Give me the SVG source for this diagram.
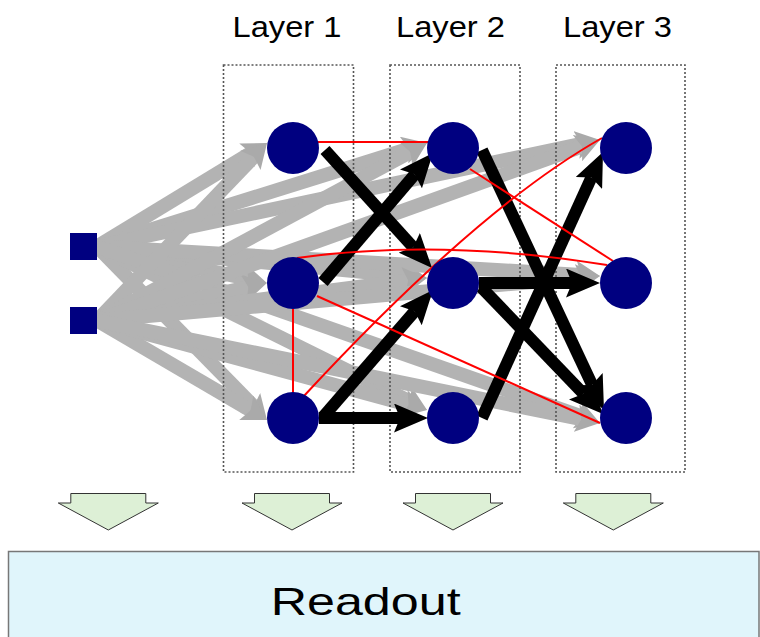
<svg xmlns="http://www.w3.org/2000/svg" width="760" height="637" viewBox="0 0 760 637">
<style>
.lbl{font-family:"Liberation Sans",Arial,sans-serif;fill:#000}
.g{stroke:#b3b3b3;stroke-width:14;fill:none;marker-end:url(#gh)}
.b{stroke:#000;stroke-width:12;fill:none;marker-end:url(#bh)}
.r{stroke:#ff0000;stroke-width:2;fill:none}
.box{fill:none;stroke:#555;stroke-width:1.6;stroke-dasharray:2 2}
.n{fill:#000080}
.ga{fill:#ddf0d6;stroke:#333;stroke-width:1}
</style>
<defs>
<marker id="gh" markerUnits="userSpaceOnUse" viewBox="0 0 24 28" markerWidth="24" markerHeight="28" refX="5" refY="14" orient="auto">
<path d="M0,0 L24,14 L0,28 L5,14 Z" fill="#aaaaaa"/>
</marker>
<marker id="bh" markerUnits="userSpaceOnUse" viewBox="0 0 34 29" markerWidth="34" markerHeight="29" refX="6" refY="14.5" orient="auto">
<path d="M0,0 L34,14.5 L0,29 L6,14.5 Z" fill="#000"/>
</marker>
</defs>
<rect width="760" height="637" fill="#fff"/>
<g id="labels">
<text class="lbl" x="287" y="37" font-size="30" text-anchor="middle" textLength="109" lengthAdjust="spacingAndGlyphs">Layer 1</text>
<text class="lbl" x="450.5" y="37" font-size="30" text-anchor="middle" textLength="109" lengthAdjust="spacingAndGlyphs">Layer 2</text>
<text class="lbl" x="617.5" y="37" font-size="30" text-anchor="middle" textLength="109" lengthAdjust="spacingAndGlyphs">Layer 3</text>
</g>
<g id="connectors">
<g id="input-arrows">
<line class="g" x1="97" y1="246.5" x2="250.8" y2="152.9"/>
<line class="g" x1="97" y1="246.5" x2="248.4" y2="279.0"/>
<line class="g" x1="97" y1="246.5" x2="253.7" y2="406.4"/>
<line class="g" x1="97" y1="246.5" x2="408.9" y2="148.7"/>
<line class="g" x1="97" y1="246.5" x2="408.1" y2="276.2"/>
<line class="g" x1="97" y1="246.5" x2="410.0" y2="401.6"/>
<line class="g" x1="97" y1="246.5" x2="581.4" y2="143.9"/>
<line class="g" x1="97" y1="246.5" x2="581.0" y2="274.9"/>
<line class="g" x1="97" y1="246.5" x2="582.1" y2="416.7"/>
<line class="g" x1="97" y1="320.5" x2="253.9" y2="156.7"/>
<line class="g" x1="97" y1="320.5" x2="248.4" y2="287.1"/>
<line class="g" x1="97" y1="320.5" x2="250.6" y2="410.4"/>
<line class="g" x1="97" y1="320.5" x2="410.3" y2="152.0"/>
<line class="g" x1="97" y1="320.5" x2="408.2" y2="280.4"/>
<line class="g" x1="97" y1="320.5" x2="408.7" y2="405.0"/>
<line class="g" x1="97" y1="320.5" x2="582.1" y2="146.4"/>
<line class="g" x1="97" y1="320.5" x2="581.1" y2="277.7"/>
<line class="g" x1="97" y1="320.5" x2="581.4" y2="419.2"/>
</g>
</g>
<g id="layer-boxes">
<rect id="layer1-box" class="box" x="223.5" y="65" width="130" height="407"/>
<rect id="layer2-box" class="box" x="390" y="65" width="130" height="407"/>
<rect id="layer3-box" class="box" x="556" y="65" width="129" height="407"/>
</g>
<g id="connectors-recurrent">
<g id="strong">
<line class="b" x1="325" y1="150" x2="413.2" y2="247.3"/>
<line class="b" x1="323" y1="282" x2="414.8" y2="174.3"/>
<line class="b" x1="323" y1="417" x2="414.7" y2="311.2"/>
<line class="b" x1="319" y1="418" x2="400" y2="418"/>
<line class="b" x1="482" y1="150" x2="592.1" y2="384.7"/>
<line class="b" x1="479" y1="283" x2="572" y2="283"/>
<line class="b" x1="481" y1="287" x2="583.6" y2="393.8"/>
<line class="b" x1="482" y1="418" x2="591.4" y2="177.5"/>
</g>
<g id="weak">
<path class="r" d="M318,142 L428,142"/>
<path class="r" d="M297,258 Q440,238 607,265"/>
<path class="r" d="M317,296 L600,423"/>
<path class="r" d="M293,309 L293,393"/>
<path class="r" d="M303,397 Q478,208 602,138"/>
<path class="r" d="M470,169 L613,261"/>
</g>
</g>
<g id="inputs">
<rect id="in1" class="n" x="70" y="233" width="27" height="27"/>
<rect id="in2" class="n" x="70" y="307" width="27" height="27"/>
</g>
<g id="n11"><circle class="n" cx="293" cy="148" r="26"/></g>
<g id="n12"><circle class="n" cx="293" cy="283" r="26"/></g>
<g id="n13"><circle class="n" cx="293" cy="418" r="26"/></g>
<g id="n21"><circle class="n" cx="453" cy="148" r="26"/></g>
<g id="n22"><circle class="n" cx="453" cy="283" r="26"/></g>
<g id="n23"><circle class="n" cx="453" cy="418" r="26"/></g>
<g id="n31"><circle class="n" cx="626" cy="148" r="26"/></g>
<g id="n32"><circle class="n" cx="626" cy="283" r="26"/></g>
<g id="n33"><circle class="n" cx="626" cy="418" r="26"/></g>
<g id="readout-arrows">
<polygon class="ga" points="70.8,493.5 145.8,493.5 145.8,503 158.3,503 108.3,530 58.3,503 70.8,503"/>
<polygon class="ga" points="254.5,493.5 329.5,493.5 329.5,503 342,503 292,530 242,503 254.5,503"/>
<polygon class="ga" points="415.5,493.5 490.5,493.5 490.5,503 503,503 453,530 403,503 415.5,503"/>
<polygon class="ga" points="575.8,493.5 650.8,493.5 650.8,503 663.3,503 613.3,530 563.3,503 575.8,503"/>
</g>
<g id="readout">
<rect x="8.5" y="551.5" width="750.5" height="100" fill="#e0f5fb" stroke="#777" stroke-width="1.5"/>
<text class="lbl" x="365.7" y="615" font-size="39" text-anchor="middle" textLength="190" lengthAdjust="spacingAndGlyphs">Readout</text>
</g>
</svg>
